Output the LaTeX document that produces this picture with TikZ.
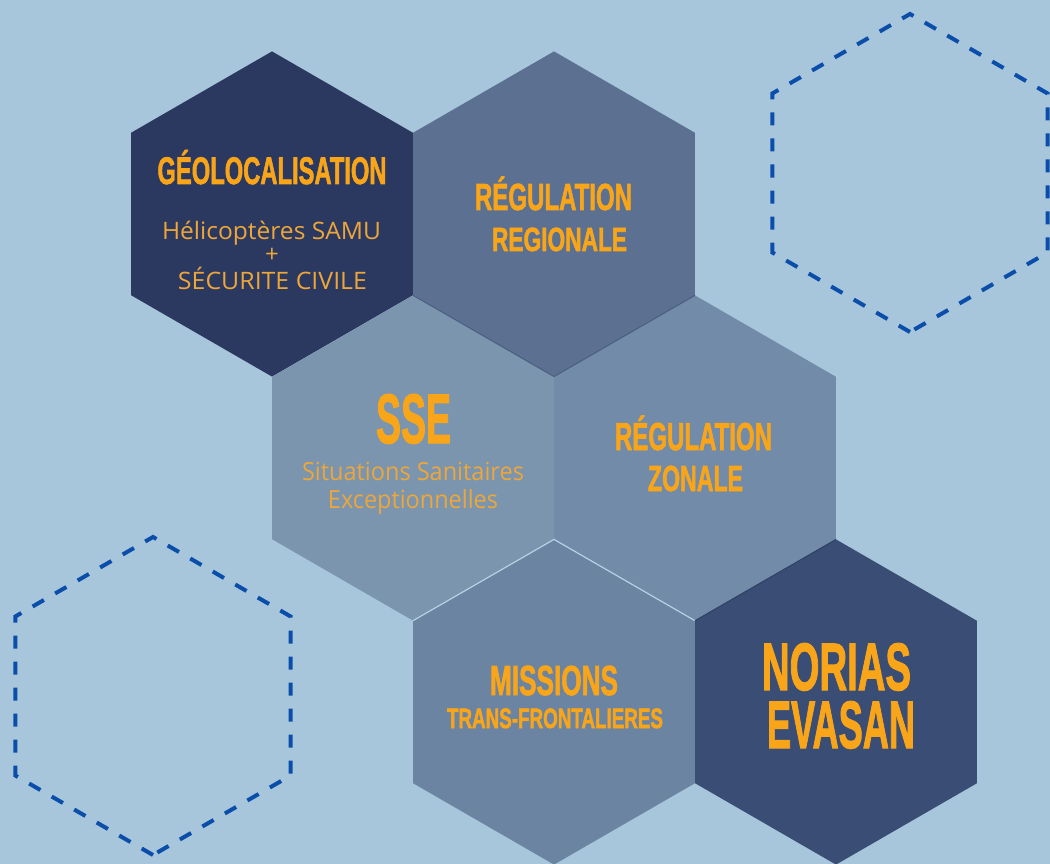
\documentclass[tikz,border=0pt]{standalone}
\usepackage{fontspec}
\usepackage{graphicx}
\newfontfamily\titfont{Liberation Sans}[BoldFeatures={FakeBold=2}]
\newfontfamily\txtfont{Open Sans}
\definecolor{bg}{HTML}{A7C5DB}
\definecolor{hexA}{HTML}{2B3860}
\definecolor{hexB}{HTML}{5C7191}
\definecolor{hexC}{HTML}{7B95AF}
\definecolor{hexD}{HTML}{728BA9}
\definecolor{hexE}{HTML}{6B84A2}
\definecolor{hexF}{HTML}{3A4D74}
\definecolor{orng}{HTML}{F9A51A}
\definecolor{suborng}{HTML}{EDA63A}
\definecolor{dashblue}{HTML}{0B4EAA}
\definecolor{darkedge}{HTML}{4A5E80}
\definecolor{lightedge}{HTML}{B8D0E3}
\definecolor{darkedgeF}{HTML}{2E3F63}
\newcommand\hxtitle[3]{\resizebox{#1pt}{\height}{\titfont\bfseries\fontsize{#2pt}{#2pt}\selectfont #3}}
\newcommand\hxtext[3]{\resizebox{#1pt}{\height}{\txtfont\fontsize{#2pt}{#2pt}\selectfont #3}}
\tikzset{
  dashhex/.style={draw=dashblue, line width=4pt, dash pattern=on 13pt off 13pt},
  ttl/.style={text=orng, inner sep=0pt, anchor=base},
  sub/.style={text=suborng, inner sep=0pt, anchor=base},
}
\newcommand\hexpath[3]{(#1,#2) ++(90:#3) -- ++(210:#3) -- ++(270:#3) -- ++(330:#3) -- ++(30:#3) -- ++(90:#3) -- cycle}
\begin{document}
\begin{tikzpicture}[x=1pt,y=-1pt]
\fill[bg] (0,0) rectangle (1050,864);
\useasboundingbox (0,0) rectangle (1050,864);
\def\R{162.6}
% dashed decorative hexagons
\draw[dashhex] \hexpath{910}{173}{159};
\draw[dashhex] \hexpath{153}{696}{159};
% main hexagons
\fill[hexA] \hexpath{272}{214}{\R};
\fill[hexC] \hexpath{413}{458}{\R};
\fill[hexD] \hexpath{695}{458}{\R};
\fill[hexB] \hexpath{554}{214}{\R};
\draw[darkedge, line width=1pt] (413,295.3) -- (554,376.6) -- (695,295.3);
\fill[hexE] \hexpath{554}{702}{\R};
\draw[lightedge, line width=1.2pt] (413,620.7) -- (554,539.4) -- (695,620.7);
\fill[hexF] \hexpath{836}{702}{\R};
\draw[darkedgeF, line width=1pt] (695,620.7) -- (836,539.4);
% texts
\node[ttl] (geo) at (272,184) {\hxtitle{229}{38.4}{GÉOLOCALISATION}};
\node[sub] (heli) at (271.5,239) {\hxtext{219}{24}{Hélicoptères SAMU}};
\node[text=suborng, inner sep=0pt] (plus) at (272,255) {\txtfont\fontsize{24pt}{24pt}\selectfont +};
\node[sub] (secu) at (272.5,289) {\hxtext{189}{24}{SÉCURITE CIVILE}};
\node[ttl] (reg1) at (553.5,210) {\hxtitle{157}{37.7}{RÉGULATION}};
\node[ttl] (reg2) at (559.5,251) {\hxtitle{135}{33.5}{REGIONALE}};
\node[ttl] (sse) at (413.5,443) {\hxtitle{75}{70}{SSE}};
\node[sub] (sit1) at (413,480) {\hxtext{222}{25}{Situations Sanitaires}};
\node[sub] (sit2) at (413,508) {\hxtext{170}{25}{Exceptionnelles}};
\node[ttl] (zon1) at (693.5,450) {\hxtitle{157}{39}{RÉGULATION}};
\node[ttl] (zon2) at (695.5,491) {\hxtitle{95}{36.3}{ZONALE}};
\node[ttl] (mis1) at (554,695) {\hxtitle{128}{42}{MISSIONS}};
\node[ttl] (mis2) at (555,728) {\hxtitle{216}{28}{TRANS-FRONTALIERES}};
\node[ttl] (nor1) at (836.5,690) {\hxtitle{149}{67}{NORIAS}};
\node[ttl] (nor2) at (841,748) {\hxtitle{148}{67}{EVASAN}};
\end{tikzpicture}
\end{document}
